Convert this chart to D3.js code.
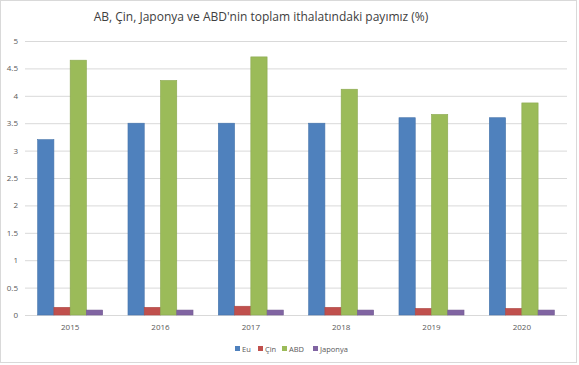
<!DOCTYPE html>
<html><head><meta charset="utf-8">
<script src="https://cdn.jsdelivr.net/npm/d3@7"></script>
<style>body{margin:0;background:#fff;} svg{display:block;}</style>
</head><body>
<script>
const years = ["2015","2016","2017","2018","2019","2020"];
const seriesNames = ["Eu","Çin","ABD","Japonya"];
const eu = [3.2, 3.5, 3.5, 3.5, 3.6, 3.6];
const cin = [0.14, 0.14, 0.16, 0.14, 0.12, 0.12];
const abd = [4.65, 4.28, 4.71, 4.12, 3.66, 3.87];
const japonya = [0.09, 0.09, 0.09, 0.09, 0.09, 0.09];
const yTicks = [0, 0.5, 1, 1.5, 2, 2.5, 3, 3.5, 4, 4.5, 5];
const colors = ["#4F81BD", "#C0504D", "#9BBB59", "#8064A2"];
const title = "AB, Çin, Japonya ve ABD'nin toplam ithalatındaki payımız (%)";

const seriesValues = [eu, cin, abd, japonya];
const W = 579, H = 365;
const svg = d3.select("body").append("svg").attr("width", W).attr("height", H);
svg.append("rect").attr("x",0.5).attr("y",0.5).attr("width",W-3).attr("height",H-3)
  .attr("fill","#fff").attr("stroke","#d9d9d9");

const m = {left:25, right:567, top:41, bottom:315};
const x = d3.scaleBand().domain(years).range([m.left, m.right]).paddingInner(0.28).paddingOuter(0.14);
const xs = d3.scaleBand().domain(seriesNames).range([0, x.bandwidth()]);
const y = d3.scaleLinear().domain([0,5]).range([m.bottom, m.top]);

// gridlines
svg.append("g").selectAll("line").data(yTicks).join("line")
  .attr("x1", m.left).attr("x2", m.right)
  .attr("y1", d=>y(d)+0.5).attr("y2", d=>y(d)+0.5)
  .attr("stroke", "#d9d9d9").attr("stroke-width", 1);

// y axis labels
const yAxis = d3.axisLeft(y).tickValues(yTicks).tickSize(0).tickPadding(0).tickFormat(d=>String(d));
const ga = svg.append("g").attr("transform",`translate(${m.left-7},0)`).call(yAxis);
ga.select(".domain").remove();
ga.selectAll("text").attr("font-family","Open Sans, sans-serif").attr("font-size",8).attr("fill","#595959");

// x axis labels
const xAxis = d3.axisBottom(x).tickSize(0).tickPadding(9);
const gx = svg.append("g").attr("transform",`translate(0,${m.bottom})`).call(xAxis);
gx.select(".domain").remove();
gx.selectAll("text").attr("font-family","Open Sans, sans-serif").attr("font-size",8).attr("fill","#595959");

// bars
seriesNames.forEach((s, si) => {
  svg.append("g").selectAll("rect").data(years).join("rect")
    .attr("x", d => x(d) + xs(s))
    .attr("width", xs.bandwidth())
    .attr("y", (d,i) => y(seriesValues[si][i]))
    .attr("height", (d,i) => y(0) - y(seriesValues[si][i]))
    .attr("fill", colors[si])
    .attr("stroke", d3.color(colors[si]).darker(0.3)).attr("stroke-width", 0.6);
});

// title
svg.append("text").attr("x", 261).attr("y", 21).attr("text-anchor","middle")
  .attr("font-family","Open Sans, sans-serif").attr("font-size",12).attr("fill","#404040")
  .text(title);

// legend
const legendX = [235, 258, 282, 313];
const lg = svg.append("g");
seriesNames.forEach((s, si) => {
  lg.append("rect").attr("x", legendX[si]).attr("y", 346).attr("width",5).attr("height",5).attr("fill",colors[si]);
  lg.append("text").attr("x", legendX[si]+7).attr("y", 351.5)
    .attr("font-family","Open Sans, sans-serif").attr("font-size",7.5).attr("fill","#595959").text(s);
});
</script>
</body></html>
